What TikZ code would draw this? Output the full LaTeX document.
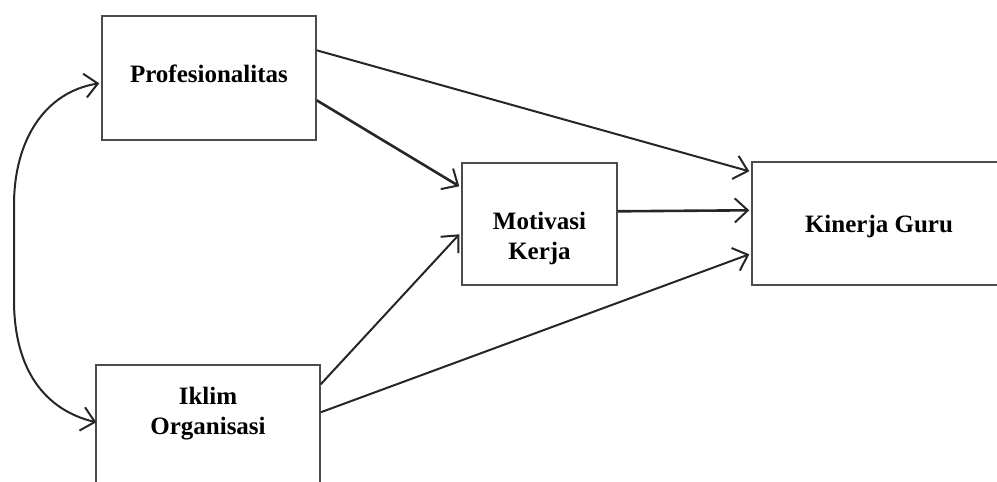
\documentclass[tikz,border=0pt]{standalone}
\usepackage{fontspec}
\setmainfont{Liberation Serif}
\usetikzlibrary{arrows.meta,calc}
\begin{document}
\begin{tikzpicture}[x=1pt,y=-1pt,
  boxnode/.style={draw=black!70,line width=1.4pt,rectangle,inner sep=0pt},
  lbl/.style={font=\bfseries\fontsize{25}{30}\selectfont,align=center,inner sep=0pt},
  conn/.style={draw=black!85,line width=2pt,-{Straight Barb[length=13pt,width=24pt,line width=2pt]}},
  thick conn/.style={conn,line width=2.6pt}
]
\useasboundingbox (0,0) rectangle (997,482);
\clip (0,0) rectangle (997,482);
% boxes
\node[boxnode,minimum width=214pt,minimum height=124pt] (prof) at (209,78) {};
\node[boxnode,minimum width=155pt,minimum height=122pt] (motiv) at (539.5,224) {};
\node[boxnode,minimum width=300pt,minimum height=123pt] (kin) at (902,223.5) {};
\node[boxnode,minimum width=224pt,minimum height=160pt] (iklim) at (208,445) {};
% labels
\node[lbl] (proft) at (209,74) {Profesionalitas};
\node[lbl] (motivt) at (539.5,238) {Motivasi\\Kerja};
\node[lbl] (kint) at (879,226) {Kinerja Guru};
\node[lbl] (iklimt) at (208,414) {Iklim\\Organisasi};
% connectors
\draw[conn] ($(prof.north east)+(0,35)$) -- ($(kin.north west)+(-2,10)$);
\draw[thick conn] ($(prof.north east)+(0,85)$) -- ($(motiv.north west)+(-2,24)$);
\draw[conn] ($(iklim.north east)+(0,20)$) -- ($(motiv.north west)+(-2,72)$);
\draw[conn] ($(iklim.north east)+(0,48)$) -- ($(kin.north west)+(-2,93)$);
\draw[thick conn] ($(motiv.north east)+(0,49)$) -- ($(kin.north west)+(-2,49)$);
% correlation curve
\coordinate (ptop) at ($(prof.north west)+(-2,68)$);
\coordinate (pbot) at ($(iklim.north west)+(1,58)$);
\draw[conn,{Straight Barb[length=13pt,width=24pt,line width=2pt]}-{Straight Barb[length=13pt,width=24pt,line width=2pt]}]
  (ptop) .. controls (45,92) and (14,140) .. (14,205) -- (14,300)
  .. controls (14,370) and (45,410) .. (pbot);
\end{tikzpicture}
\end{document}
